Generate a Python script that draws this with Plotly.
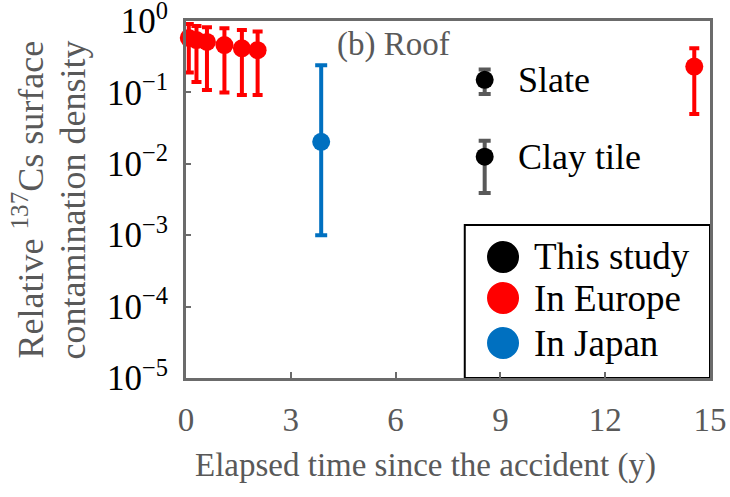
import math
import plotly.graph_objects as go

# ---- data ----
europe_x = [0.08, 0.3, 0.6, 1.1, 1.6, 2.05, 14.55]
europe_y = [0.58, 0.54, 0.51, 0.46, 0.415, 0.39, 0.23]
europe_hi = [0.91, 0.85, 0.82, 0.79, 0.75, 0.71, 0.415]
europe_lo = [0.19, 0.14, 0.108, 0.10, 0.092, 0.092, 0.05]

japan_x = [3.87]
japan_y = [0.0203]
japan_hi = [0.24]
japan_lo = [0.001]

study_x = [8.55, 8.55]
study_y = [0.15, 0.0126]
study_hi = [0.21, 0.021]
study_lo = [0.095, 0.0039]
study_labels = ["Slate", "Clay tile"]

legend_names = ["This study", "In Europe", "In Japan"]
legend_colors = ["#000000", "#FF0000", "#0070C0"]

x_ticks = [0, 3, 6, 9, 12, 15]
y_ticks = [1e-5, 1e-4, 1e-3, 1e-2, 1e-1, 1]
y_tick_text = ["10<sup>\u22125</sup>", "10<sup>\u22124</sup>", "10<sup>\u22123</sup>",
               "10<sup>\u22122</sup>", "10<sup>\u22121</sup>", "10<sup>0</sup>"]

FONT = "Liberation Serif, Times New Roman, serif"
GRAY = "#595959"
AXIS = "#6b6b6b"


def err(vals, hi, lo):
    plus = [h - v for h, v in zip(hi, vals)]
    minus = [v - l for v, l in zip(vals, lo)]
    return plus, minus


fig = go.Figure()

for xs, ys, hi, lo, mcol, ecol, ew in [
    (europe_x, europe_y, europe_hi, europe_lo, "#FF0000", "#FF0000", 5),
    (japan_x, japan_y, japan_hi, japan_lo, "#0070C0", "#0070C0", 6),
    (study_x, study_y, study_hi, study_lo, "#000000", GRAY, 6),
]:
    p, m = err(ys, hi, lo)
    fig.add_trace(go.Scatter(
        x=xs, y=ys, mode="markers",
        marker=dict(color=mcol, size=18),
        error_y=dict(type="data", array=p, arrayminus=m, color=ecol,
                     thickness=4, width=ew, visible=True),
        cliponaxis=False, showlegend=False, hoverinfo="skip",
    ))

annotations = []
for xv, yv, lab in zip(study_x, study_y, study_labels):
    annotations.append(dict(x=xv + 0.9, y=math.log10(yv), xref="x", yref="y",
                            text=lab, showarrow=False, xanchor="left",
                            yanchor="middle", font=dict(size=36, color="#000000",
                                                        family=FONT)))

annotations.append(dict(x=0.285, y=0.933, xref="paper", yref="paper",
                        text="(b) Roof", showarrow=False, xanchor="left",
                        yanchor="middle", font=dict(size=33, color=GRAY, family=FONT)))
annotations.append(dict(x=0.458, y=-0.2437, xref="paper", yref="paper",
                        text="Elapsed time since the accident (y)", showarrow=False,
                        xanchor="center", yanchor="middle",
                        font=dict(size=33, color=GRAY, family=FONT)))
annotations.append(dict(x=-0.3015, y=0.5, xref="paper", yref="paper",
                        text="Relative <sup>137</sup>Cs surface", showarrow=False,
                        textangle=-90, xanchor="center", yanchor="middle",
                        font=dict(size=36, color=GRAY, family=FONT)))
annotations.append(dict(x=-0.2157, y=0.5, xref="paper", yref="paper",
                        text="contamination density", showarrow=False,
                        textangle=-90, xanchor="center", yanchor="middle",
                        font=dict(size=36, color=GRAY, family=FONT)))

shapes = [dict(type="rect", xref="paper", yref="paper", x0=0.532, x1=1.0,
               y0=0, y1=0.4286, line=dict(color="#000000", width=2),
               fillcolor="white", layer="below")]
leg_y = [0.339, 0.224, 0.098]
for name, col, ly in zip(legend_names, legend_colors, leg_y):
    shapes.append(dict(type="circle", xref="paper", yref="paper",
                       xsizemode="pixel", ysizemode="pixel",
                       xanchor=0.605, yanchor=ly, x0=-16, x1=16, y0=-16, y1=16,
                       fillcolor=col, line=dict(width=0)))
    annotations.append(dict(x=0.66, y=ly, xref="paper", yref="paper", text=name,
                            showarrow=False, xanchor="left", yanchor="middle",
                            font=dict(size=37, color="#000000", family=FONT)))

fig.update_layout(
    width=730, height=497,
    margin=dict(l=186, r=20, t=21, b=119, autoexpand=False),
    plot_bgcolor="white", paper_bgcolor="white",
    font=dict(family=FONT),
    shapes=shapes, annotations=annotations,
    showlegend=False,
)
fig.update_xaxes(range=[0, 15], tickvals=x_ticks, showgrid=False, zeroline=False,
                 showline=True, linecolor=AXIS, linewidth=3, mirror=True,
                 ticks="inside", ticklen=6, tickwidth=2, tickcolor=AXIS,
                 tickfont=dict(size=33, color=GRAY, family=FONT),
                 ticklabelstandoff=10, automargin=False, ticklabeloverflow="allow")
fig.update_yaxes(type="log", range=[-5, 0], tickvals=y_ticks, ticktext=y_tick_text,
                 showgrid=False, zeroline=False, showline=True, linecolor=AXIS,
                 linewidth=3, mirror=True, ticks="inside", ticklen=5, tickwidth=2,
                 tickcolor=AXIS, tickfont=dict(size=35, color="#000000", family=FONT),
                 ticklabelstandoff=8, automargin=False, ticklabeloverflow="allow")

# remove the default page margin so the figure sits at the window origin
fig.write_html("out.html",
               config={"displayModeBar": False},
               post_script="document.body.style.margin='0';document.body.style.overflow='hidden';")
